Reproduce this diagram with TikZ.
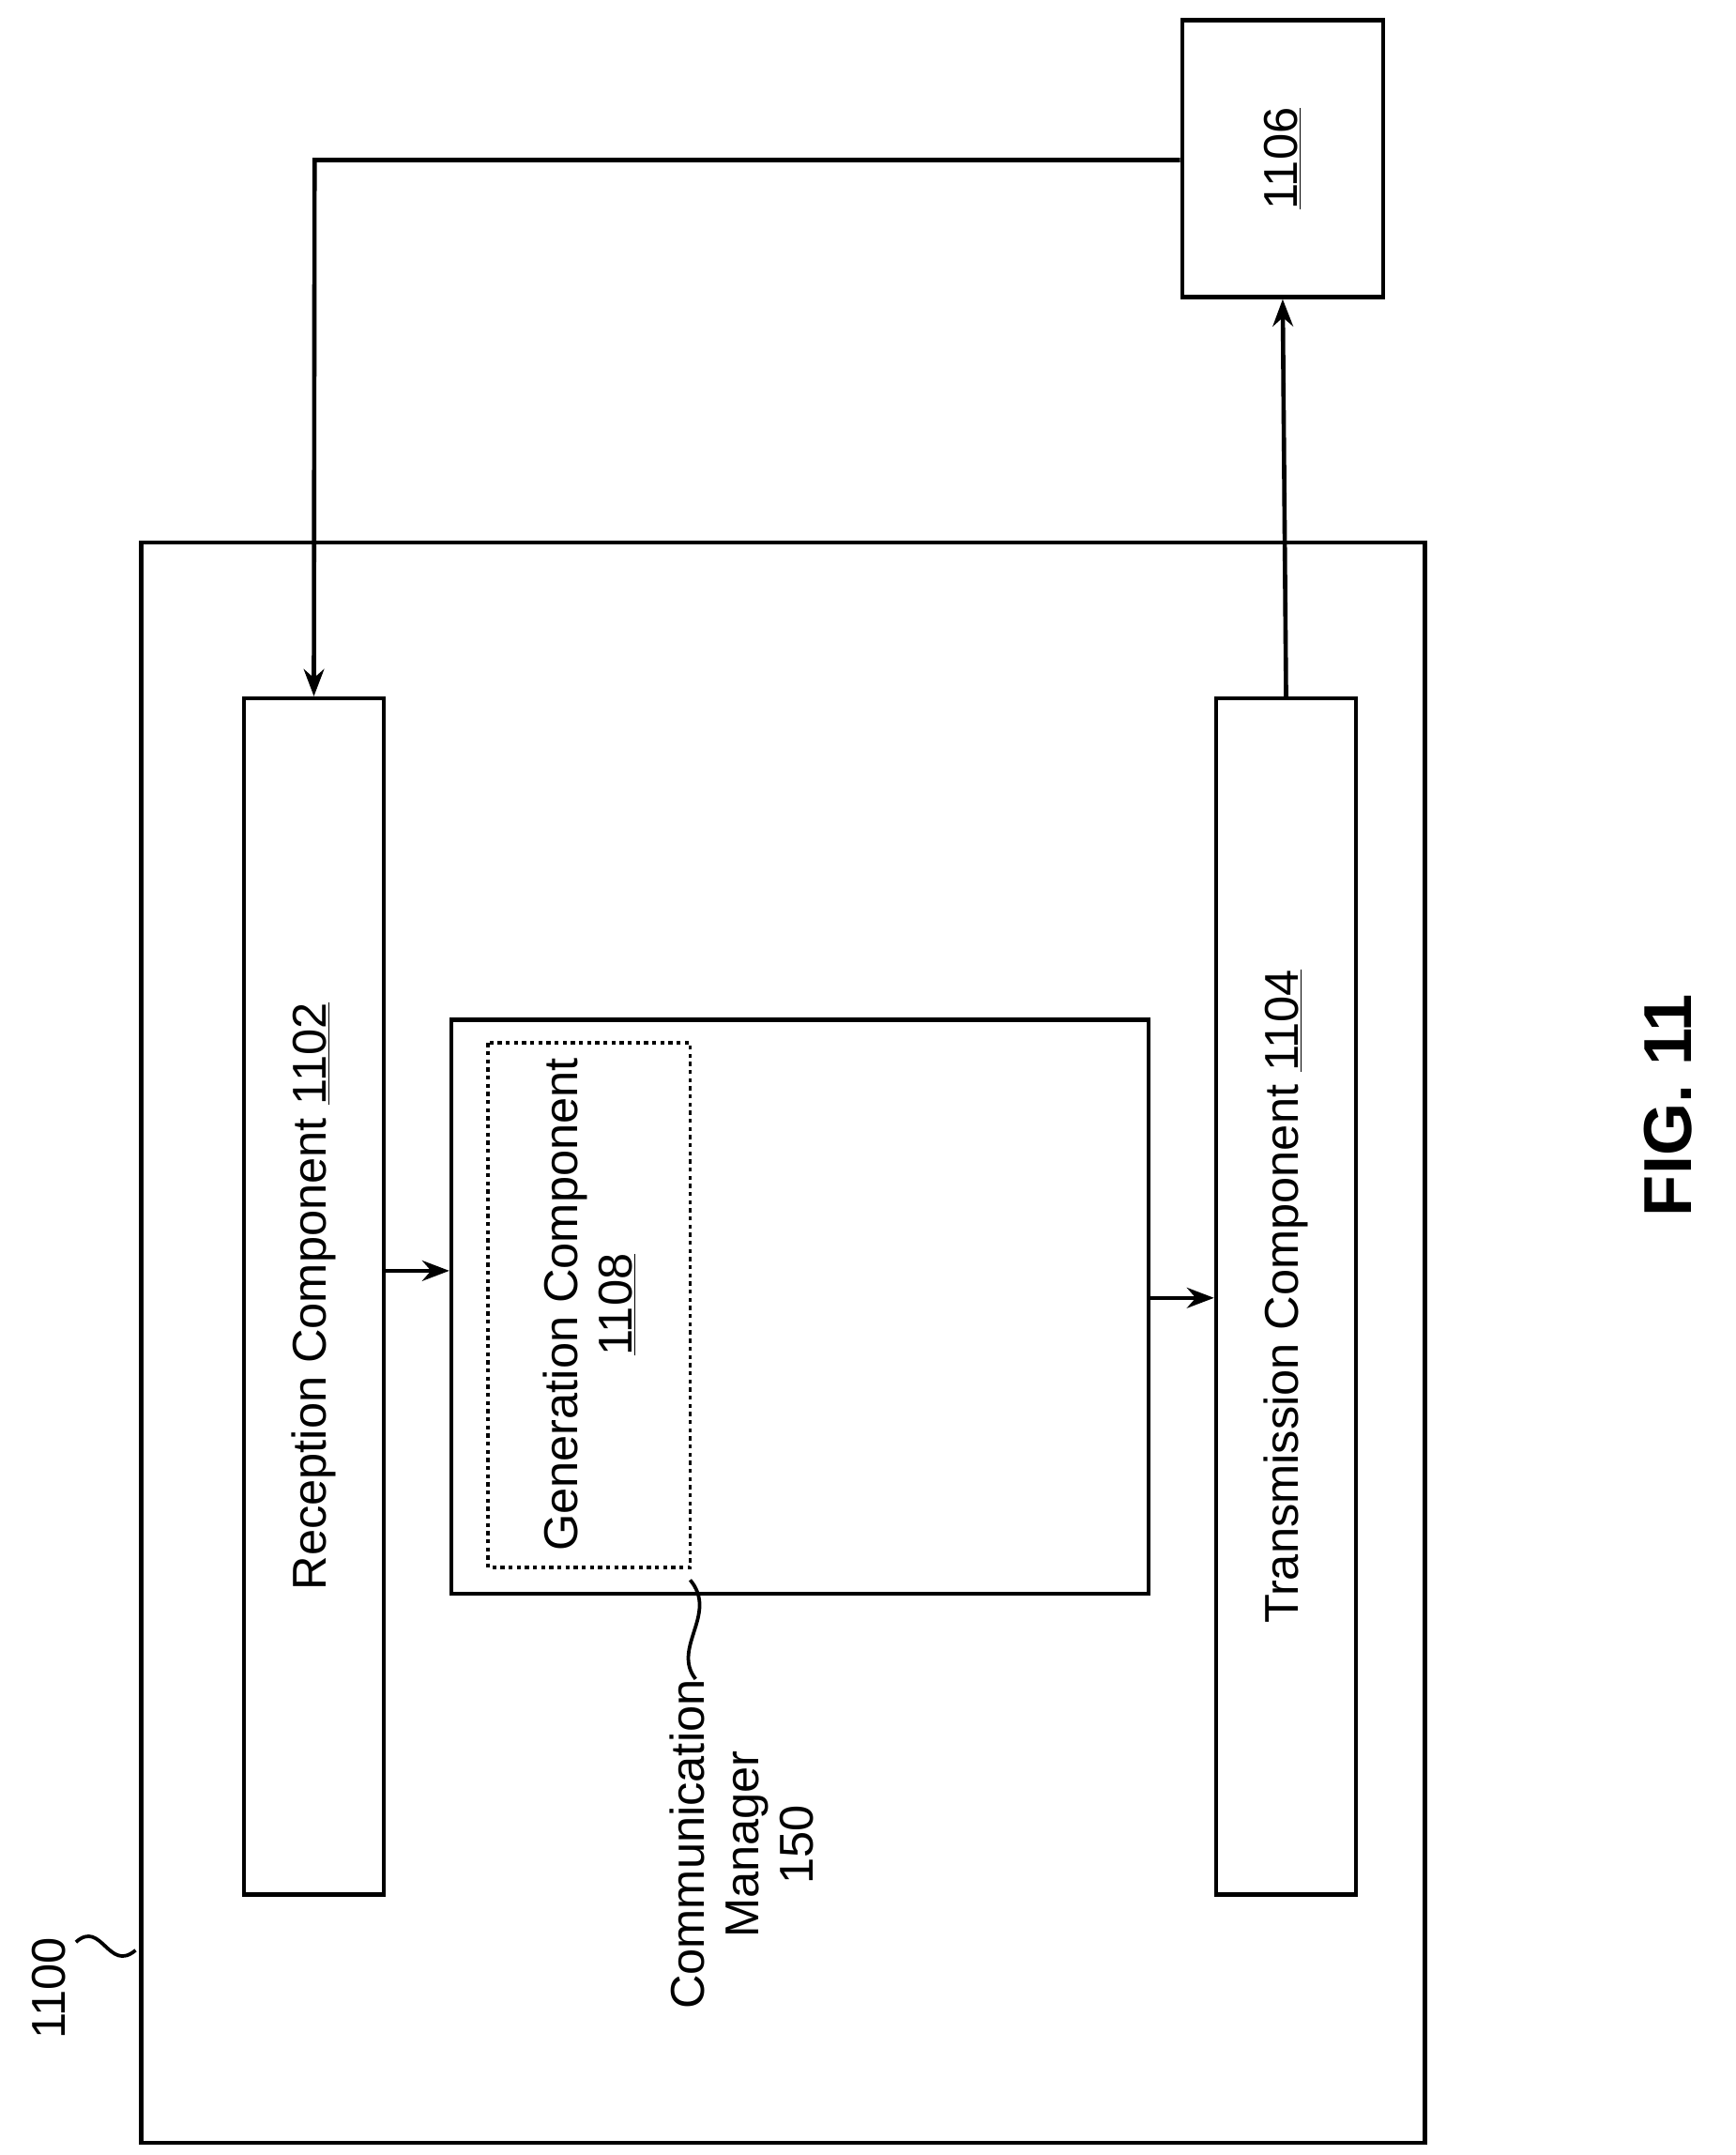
\documentclass[tikz,border=0pt]{standalone}
\usepackage{fontspec}
\setmainfont{Liberation Sans}
\usetikzlibrary{arrows.meta,decorations.pathmorphing}
\begin{document}
\begin{tikzpicture}[x=1pt,y=-1pt,line width=3.2pt,
  box/.style={draw,line width=3.2pt},
  lbl/.style={font=\fontsize{35}{40}\selectfont,rotate=90,align=center},
  arr/.style={-{Stealth[length=20pt,width=15pt]}}]
\useasboundingbox (0,0) rectangle (1280,1589);
\draw[box] (104,400) rectangle (1051,1580);
\node[box,minimum width=103pt,minimum height=882pt,inner sep=0] (rec) at (231.5,956) {};
\node[lbl] at (rec) {Reception Component \underline{1102}};
\node[box,minimum width=103pt,minimum height=882pt,inner sep=0] (tra) at (948.5,956) {};
\node[lbl] at (tra) {Transmission Component \underline{1104}};
\node[box,minimum width=514pt,minimum height=423pt,inner sep=0] (cm) at (590,963.5) {};
\draw[dashed,line width=2.6pt] (360,769) rectangle (509,1156);
\node[lbl] (gen) at (434.5,962) {Generation Component\\\underline{1108}};
\node[box,minimum width=148pt,minimum height=204pt,inner sep=0] (dev) at (946,117) {};
\node[lbl] at (dev) {\underline{1106}};
\coordinate (c1) at (232,118);
\draw[arr] (dev.west |- c1) -- (c1) -- (rec.north);
\draw[arr] (tra.north) -- (dev.south);
\draw[arr] (rec.east |- 0,937) -- (cm.west |- 0,937);
\draw[arr] (cm.east |- 0,957) -- (tra.west |- 0,957);
\node[lbl] (cml) at (547,1360) {Communication\\Manager\\150};
\coordinate (s1) at (509,1165);
\coordinate (s2) at (513,1238);
\draw[line width=2.6pt] (s1) .. controls (530,1190) and (495,1215) .. (s2);
\node[lbl] (n1100) at (36,1466) {1100};
\coordinate (t1) at (56,1432);
\coordinate (t2) at (100,1438);
\draw[line width=2.6pt] (t1) .. controls (75,1415) and (80,1455) .. (t2);
\node[lbl,font=\bfseries\fontsize{50}{56}\selectfont] (fig) at (1230,815) {FIG. 11};
\end{tikzpicture}
\end{document}
